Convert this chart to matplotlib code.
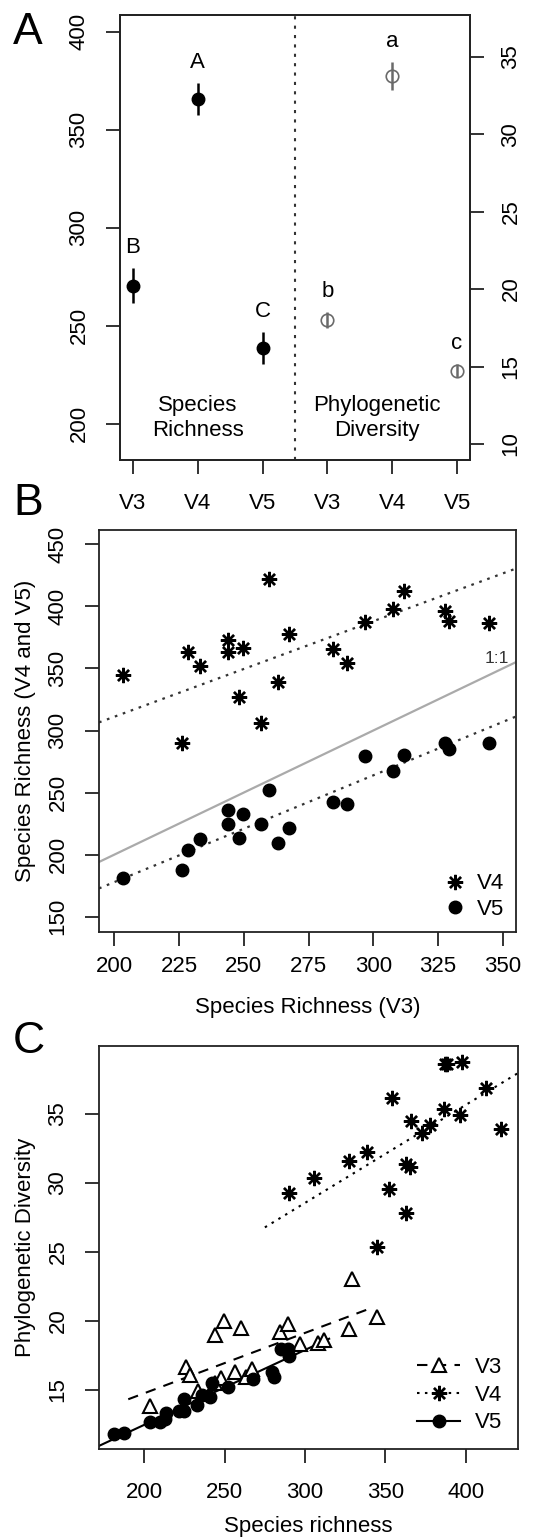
import numpy as np
import matplotlib
matplotlib.use('Agg')
import matplotlib.pyplot as plt
from matplotlib.lines import Line2D

plt.rcParams['font.family'] = ['Liberation Sans', 'DejaVu Sans']

# ---------------- data ----------------
groups = ['V3', 'V4', 'V5']
sr_mean = [270.4, 365.7, 238.8]
sr_se = [9.0, 8.0, 8.0]
sr_letters = ['B', 'A', 'C']
pd_mean = [18.0, 33.75, 14.73]
pd_se = [0.5, 0.9, 0.43]
pd_letters = ['b', 'a', 'c']

sr_v3 = [203.3, 226.0, 228.6, 233.1, 243.8, 243.8, 248.0, 249.7, 256.5, 259.9,
         263.1, 267.3, 284.6, 289.7, 296.7, 307.8, 311.9, 327.5, 329.3, 344.8]
sr_v4 = [344.7, 289.9, 363.0, 352.0, 372.9, 363.0, 327.2, 366.2, 305.8, 422.1,
         338.8, 377.7, 365.4, 354.1, 387.1, 397.6, 412.4, 396.3, 388.5, 386.3]
sr_v5 = [181.4, 187.6, 203.4, 212.8, 235.7, 224.6, 213.6, 232.7, 224.4, 252.0,
         209.6, 221.7, 242.1, 240.8, 279.4, 267.6, 280.5, 289.6, 285.3, 290.2]
pd_v3 = [13.83, 16.65, 16.07, 14.90, 18.97, 15.50, 15.90, 19.97, 16.27, 19.47,
         15.95, 16.52, 19.22, 19.77, 18.32, 18.40, 18.65, 19.40, 23.07, 20.32]
pd_v4 = [25.39, 29.26, 31.38, 29.56, 33.63, 27.80, 31.63, 34.50, 30.33, 33.88,
         32.25, 34.20, 31.13, 36.17, 38.60, 38.80, 36.87, 34.93, 38.60, 35.37]
pd_v5 = [11.78, 11.90, 12.65, 12.90, 14.60, 13.47, 13.35, 13.90, 14.33, 15.20,
         12.65, 13.47, 15.50, 14.50, 16.27, 15.77, 15.95, 17.95, 17.95, 17.45]

# x-extent of fitted lines in panel C
fit_range_c = {'V3': (190, 342), 'V4': (275, 440), 'V5': (165, 315)}

# ---------------- style ----------------
FS = 16
ASTER = (8, 2, 0)
DOT = (0, (1.2, 2.6))
DASH = (0, (5, 4))
W, H = 542, 1540

fig = plt.figure(figsize=(W / 100, H / 100), dpi=100)


def rect(x0, x1, y0, y1):
    return [x0 / W, 1 - y1 / H, (x1 - x0) / W, (y1 - y0) / H]


def ma_fit(x, y):
    """Major-axis (model II) regression: returns slope, intercept."""
    x = np.asarray(x, float)
    y = np.asarray(y, float)
    dx, dy = x - x.mean(), y - y.mean()
    sxx, syy, sxy = (dx * dx).sum(), (dy * dy).sum(), (dx * dy).sum()
    b = ((syy - sxx) + np.sqrt((syy - sxx) ** 2 + 4 * sxy ** 2)) / (2 * sxy)
    return b, y.mean() - b * x.mean()


def style_axes(ax, ticklen=10, xpad=8, ypad=12):
    for s in ax.spines.values():
        s.set_linewidth(1.3)
        s.set_color('#222222')
    ax.tick_params(axis='both', direction='out', length=ticklen, width=1.3,
                   labelsize=FS, color='#222222')
    ax.tick_params(axis='x', pad=xpad)
    ax.tick_params(axis='y', pad=ypad)
    for lab in ax.get_yticklabels():
        lab.set_rotation(90)
        lab.set_va('center')


# ---------------- Panel A ----------------
axA = fig.add_axes(rect(120, 470, 15, 460))
xs_sr = np.arange(1, 4)
xs_pd = np.arange(4, 7)
axA.errorbar(xs_sr, sr_mean, yerr=sr_se, fmt='o', color='black', ms=9,
             elinewidth=1.8, capsize=0, zorder=3)
axA.set_xlim(0.8, 6.2)
axA.set_ylim(181.6, 408.5)
axA.set_yticks([200, 250, 300, 350, 400])
axA.set_xticks(range(1, 7))
axA.set_xticklabels(groups + groups)
axA.axvline((xs_sr[-1] + xs_pd[0]) / 2, color='#333333', lw=1.5, ls=(0, (1.5, 3)))
for x, m, e, l in zip(xs_sr, sr_mean, sr_se, sr_letters):
    axA.annotate(l, (x, m + e), xytext=(0, 15), textcoords='offset points',
                 ha='center', va='center', fontsize=FS)
axA.text(2, 203, 'Species\nRichness', ha='center', va='center', fontsize=FS,
         linespacing=1.3)
axA.text(4.77, 203, 'Phylogenetic\nDiversity', ha='center', va='center',
         fontsize=FS, linespacing=1.3)

axA2 = axA.twinx()
axA2.errorbar(xs_pd, pd_mean, yerr=pd_se, fmt='o', mfc='none', mec='#6a6a6a',
              ecolor='#6a6a6a', ms=9, mew=1.2, elinewidth=1.8, capsize=0, zorder=3)
axA2.set_ylim(8.97, 37.69)
axA2.set_yticks([10, 15, 20, 25, 30, 35])
for x, m, e, l in zip(xs_pd, pd_mean, pd_se, pd_letters):
    axA2.annotate(l, (x, m + e), xytext=(0, 15), textcoords='offset points',
                  ha='center', va='center', fontsize=FS)
style_axes(axA, ticklen=10, xpad=14, ypad=12)
style_axes(axA2, ticklen=10, xpad=14, ypad=12)

# ---------------- Panel B ----------------
axB = fig.add_axes(rect(99, 516, 530, 932))
axB.set_xlim(194.1, 355.1)
axB.set_ylim(137.7, 461.5)
xl = np.array(axB.get_xlim())
axB.plot(xl, xl, color='#aaaaaa', lw=1.6, zorder=1)
for yv in (sr_v4, sr_v5):
    b, a = ma_fit(sr_v3, yv)
    axB.plot(xl, a + b * xl, color='#333333', lw=1.6, ls=DOT, zorder=1)
axB.plot(sr_v3, sr_v4, ls='none', marker=ASTER, ms=11, mew=1.7, color='black',
         label='V4', zorder=3)
axB.plot(sr_v3, sr_v5, ls='none', marker='o', ms=9, color='black',
         label='V5', zorder=3)
axB.text(347.7, 358, '1:1', ha='center', va='center', fontsize=12.5, color='#333333')
axB.set_xticks([200, 225, 250, 275, 300, 325, 350])
axB.set_yticks([150, 200, 250, 300, 350, 400, 450])
axB.set_xlabel('Species Richness (V3)', fontsize=FS, labelpad=14)
axB.set_ylabel('Species Richness (V4 and V5)', fontsize=FS, labelpad=8)
axB.legend(loc='lower right', frameon=False, fontsize=FS, handlelength=1.2,
           handletextpad=0.35, borderaxespad=0.15, labelspacing=0.2)
style_axes(axB, ticklen=10, xpad=7.5, ypad=12)

# ---------------- Panel C ----------------
axC = fig.add_axes(rect(99, 518, 1046, 1449))
axC.set_xlim(171.8, 432.5)
axC.set_ylim(10.72, 39.93)
specs = [
    ('V3', sr_v3, pd_v3, DASH, dict(marker='^', mfc='white', mec='black', ms=10, mew=1.5)),
    ('V4', sr_v4, pd_v4, DOT, dict(marker=ASTER, mfc='black', mec='black', ms=11, mew=1.7)),
    ('V5', sr_v5, pd_v5, '-', dict(marker='o', mfc='black', mec='black', ms=9)),
]
handles = []
for name, xv, yv, ls, mk in specs:
    b, a = ma_fit(xv, yv)
    x0, x1 = fit_range_c[name]
    xx = np.array([x0, x1])
    axC.plot(xx, a + b * xx, color='black', lw=1.5, ls=ls, zorder=1)
    axC.plot(xv, yv, ls='none', zorder=3, **mk)
    handles.append(Line2D([], [], color='black', lw=1.5, ls=ls, **mk))
axC.set_xticks([200, 250, 300, 350, 400])
axC.set_yticks([15, 20, 25, 30, 35])
axC.set_xlabel('Species richness', fontsize=FS, labelpad=9)
axC.set_ylabel('Phylogenetic Diversity', fontsize=FS, labelpad=8)
axC.legend(handles, groups, loc='lower right', frameon=False, fontsize=FS,
           handlelength=1.9, handletextpad=0.7, borderaxespad=0.3, labelspacing=0.3)
style_axes(axC, ticklen=10, xpad=14, ypad=12)

# ---------------- panel letters ----------------
fig.text(13 / W, 1 - 12 / H, 'A', fontsize=32, va='top', ha='left')
fig.text(13 / W, 1 - 483 / H, 'B', fontsize=32, va='top', ha='left')
fig.text(13 / W, 1 - 1021 / H, 'C', fontsize=32, va='top', ha='left')

fig.savefig('out.png', dpi=100)
